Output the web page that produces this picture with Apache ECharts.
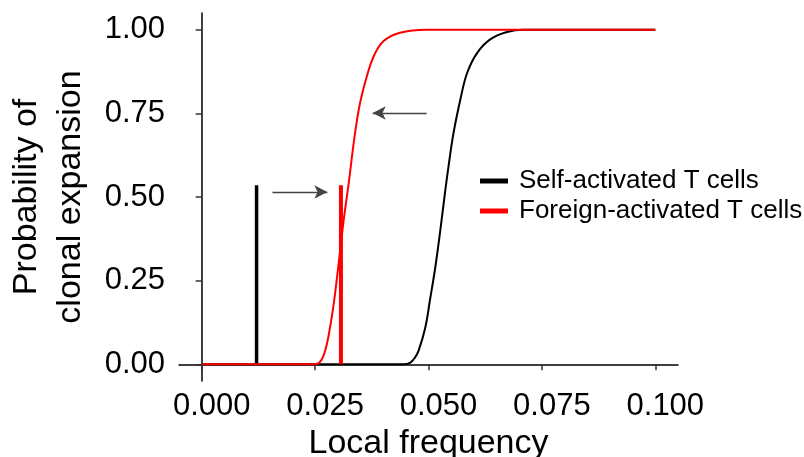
<!doctype html>
<html lang="en">
<head>
<meta charset="UTF-8">
<title>Clonal expansion</title>
<script src="https://cdn.jsdelivr.net/npm/echarts@6/dist/echarts.min.js"></script>
<style>
  html, body { margin: 0; padding: 0; background: #fff; }
</style>
</head>
<body>
<div id="myChart" style="width: 804px;height: 457px"></div>
<script>
// values
var xTicks = [0, 0.025, 0.05, 0.075, 0.1];
var yTicks = [0, 0.25, 0.5, 0.75, 1];

var selfName = 'Self-activated T cells';
var foreignName = 'Foreign-activated T cells';

var selfX = [0, 0.0445, 0.0460, 0.0470, 0.0478, 0.0493, 0.0503, 0.0515, 0.0526, 0.0537, 0.0544, 0.0555, 0.0570, 0.0585, 0.0607, 0.0636, 0.0673, 0.0709, 0.1];
var selfY = [0, 0, 0.005, 0.02, 0.04, 0.11, 0.19, 0.29, 0.40, 0.52, 0.59, 0.69, 0.79, 0.87, 0.93, 0.971, 0.993, 1.0, 1.0];

var foreignX = [0, 0.0250, 0.0258, 0.0265, 0.0272, 0.0279, 0.0290, 0.0301, 0.0312, 0.0323, 0.0338, 0.0349, 0.0364, 0.0379, 0.0401, 0.0437, 0.0496, 0.1];
var foreignY = [0, 0, 0.004, 0.015, 0.04, 0.08, 0.17, 0.29, 0.42, 0.53, 0.69, 0.78, 0.86, 0.92, 0.966, 0.991, 1.0, 1.0];

// vertical marks (position, height)
var selfMark = [0.0121, 0.535];
var foreignMark = [0.0307, 0.535];

// arrows: [xFrom, xTo, y]
var arrowRight = [0.0156, 0.0277, 0.515];
var arrowLeft = [0.0496, 0.0377, 0.751];

function zip(xs, ys) {
    return xs.map(function (x, i) { return [x, ys[i]]; });
}
function mark(m) {
    return [[m[0], 0], [m[0], m[1]]];
}
function arrow(a) {
    return [{coord: [a[0], a[2]]}, {coord: [a[1], a[2]]}];
}

var font = 'Liberation Sans, Arial, Helvetica, sans-serif';
var myChart = echarts.init(document.getElementById('myChart'));

var option = {
    backgroundColor: '#fff',
    animation: false,
    textStyle: {fontFamily: font},
    grid: {left: 179, right: 126, top: 13, bottom: 76, containLabel: false, outerBoundsMode: 'none'},
    legend: {
        orient: 'vertical',
        left: 480,
        top: 168,
        padding: 0,
        icon: 'rect',
        itemWidth: 28,
        itemHeight: 5,
        itemGap: 4,
        selectedMode: false,
        textStyle: {fontFamily: font, fontSize: 26, color: '#000', lineHeight: 26, padding: [0, 0, 0, 6]},
        data: [
            {name: selfName, itemStyle: {color: '#000'}},
            {name: foreignName, itemStyle: {color: '#ff0000'}}
        ]
    },
    xAxis: {
        type: 'value',
        min: -0.005,
        max: 0.105,
        name: 'Local frequency',
        nameLocation: 'middle',
        nameGap: 42,
        nameTextStyle: {fontFamily: font, fontSize: 34, color: '#000'},
        axisLine: {lineStyle: {color: '#000', width: 1.5}},
        axisTick: {customValues: xTicks, length: 6, lineStyle: {color: '#333', width: 1.5}},
        axisLabel: {
            customValues: xTicks,
            fontFamily: font,
            fontSize: 31,
            color: '#000',
            margin: 10,
            padding: [0, 0, 0, 20],
            formatter: function (v) { return v.toFixed(3); }
        },
        splitLine: {show: false}
    },
    yAxis: {
        type: 'value',
        min: -0.05,
        max: 1.05,
        name: 'Probability of\nclonal expansion',
        nameLocation: 'middle',
        nameRotate: 90,
        nameGap: 86,
        nameTextStyle: {fontFamily: font, fontSize: 34, color: '#000', lineHeight: 44},
        axisLine: {lineStyle: {color: '#000', width: 1.5}},
        axisTick: {customValues: yTicks, length: 6, lineStyle: {color: '#333', width: 1.5}},
        axisLabel: {
            customValues: yTicks,
            fontFamily: font,
            fontSize: 31,
            color: '#000',
            margin: 14,
            formatter: function (v) { return v.toFixed(2); }
        },
        splitLine: {show: false}
    },
    series: [
        {
            name: selfName,
            type: 'line',
            data: zip(selfX, selfY),
            showSymbol: false,
            smooth: 0.4,
            lineStyle: {color: '#000', width: 2},
            itemStyle: {color: '#000'},
            z: 2
        },
        {
            name: 'selfMark',
            type: 'line',
            data: mark(selfMark),
            showSymbol: false,
            lineStyle: {color: '#000', width: 3.5},
            z: 3
        },
        {
            name: foreignName,
            type: 'line',
            data: zip(foreignX, foreignY),
            showSymbol: false,
            smooth: 0.4,
            lineStyle: {color: '#ff0000', width: 2},
            itemStyle: {color: '#ff0000'},
            z: 4
        },
        {
            name: 'foreignMark',
            type: 'line',
            data: mark(foreignMark),
            showSymbol: false,
            lineStyle: {color: '#ff0000', width: 4},
            z: 5,
            markLine: {
                silent: true,
                symbol: ['none', 'arrow'],
                symbolSize: [10, 13],
                label: {show: false},
                lineStyle: {color: '#444', width: 1.3, type: 'solid'},
                itemStyle: {color: '#000'},
                data: [arrow(arrowRight), arrow(arrowLeft)]
            }
        }
    ]
};

myChart.setOption(option);
</script>
</body>
</html>
